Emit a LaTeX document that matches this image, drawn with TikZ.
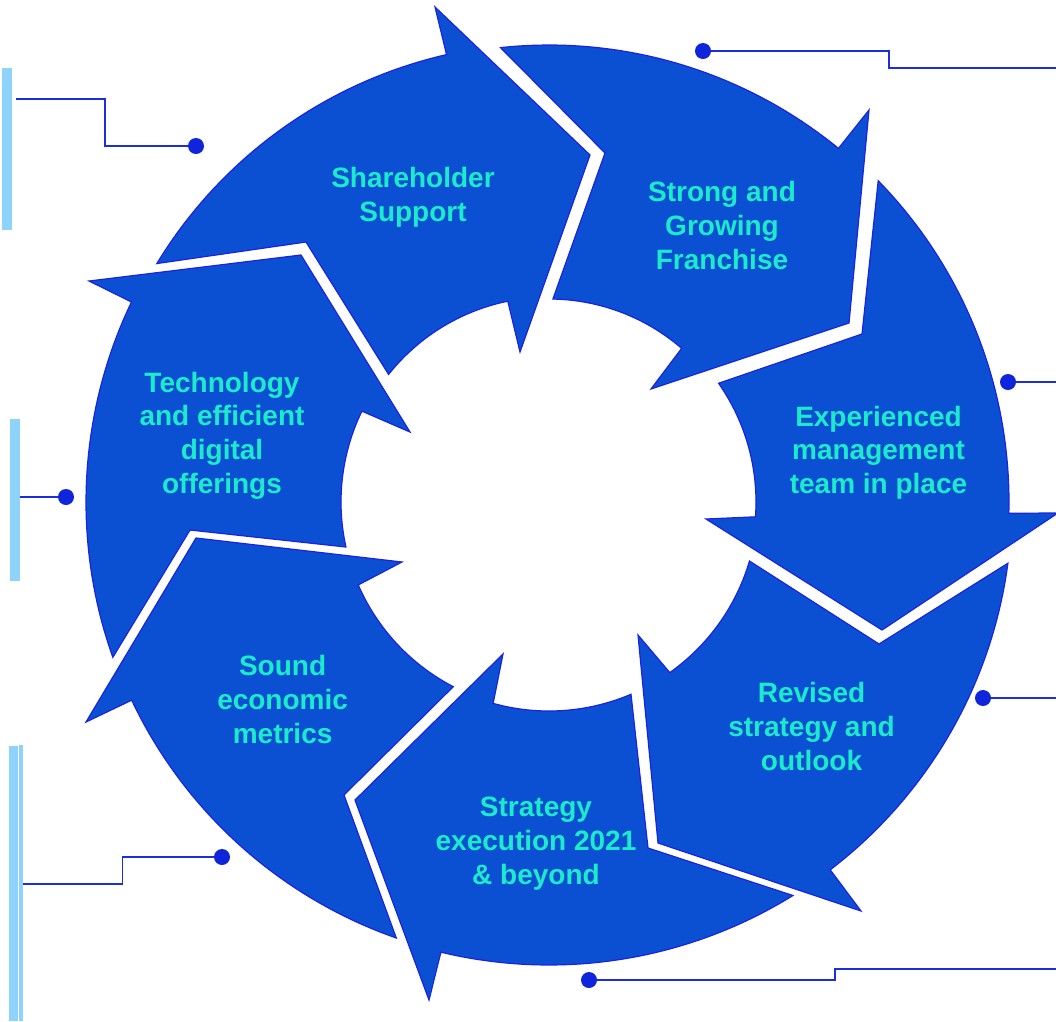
\documentclass[tikz,border=0pt]{standalone}
\usepackage{fontspec}
\setmainfont{Liberation Sans}
\definecolor{arrowfill}{HTML}{0B50D3}
\definecolor{arrowline}{HTML}{1A24E0}
\definecolor{labeltext}{HTML}{1CEBCB}
\definecolor{linkblue}{HTML}{1A2EDC}
\definecolor{dotblue}{HTML}{0F25DB}
\definecolor{barblue}{HTML}{8ED3FB}
\begin{document}
\begin{tikzpicture}[x=1pt,y=-1pt,
  ringseg/.style={fill=arrowfill, draw=arrowline, line width=1.2pt, line join=miter},
  seglabel/.style={text=labeltext, font=\bfseries\fontsize{28}{33.7}\selectfont, align=center, inner sep=0pt},
  pindot/.style={circle, fill=dotblue, minimum size=16pt, inner sep=0pt},
  leader/.style={draw=linkblue, line width=1.3pt},
  sidebar/.style={fill=barblue}]
\useasboundingbox (0,0) rectangle (1056,1021);

% side bars
\path[sidebar] (2,68) rectangle (12,230);
\path[sidebar] (10,419) rectangle (20,581);
\path[sidebar] (9,746) rectangle (18,1021);
\path[sidebar] (19.3,745) rectangle (22.5,1021);

% A: Shareholder Support
\path[ringseg] plot[domain=211.3:257.1,samples=40] ({549+459*cos(\x)},{502+459*sin(\x)})
  -- (435,7) -- (590,155) -- (520,352)
  -- plot[domain=258.4:218.5,samples=40] ({549+205*cos(\x)},{502+205*sin(\x)})
  -- (306,242) -- cycle;
% B: Strong and Growing Franchise
\path[ringseg] plot[domain=263.9:309.3,samples=40] ({549+457*cos(\x)},{502+457*sin(\x)})
  -- (869,110) -- (849,323) -- (651,389)
  -- plot[domain=310.8:271.1,samples=40] ({549+203*cos(\x)},{502+203*sin(\x)})
  -- (605,153) -- cycle;
% C: Experienced management
\path[ringseg] plot[domain=315.7:361.4,samples=40] ({549+460*cos(\x)},{502+460*sin(\x)})
  -- (1058,513) -- (882,630) -- (706,519)
  -- plot[domain=364.1:325.0,samples=40] ({549+207*cos(\x)},{502+207*sin(\x)})
  -- (862,334) -- cycle;
% D: Revised strategy
\path[ringseg] plot[domain=7.6:52.6,samples=40] ({549+463*cos(\x)},{502+463*sin(\x)})
  -- (861,911) -- (658,843) -- (638,635)
  -- plot[domain=54.7:16.4,samples=40] ({549+209*cos(\x)},{502+209*sin(\x)})
  -- (879,644) -- cycle;
% E: Strategy execution
\path[ringseg] plot[domain=58.2:103.5,samples=40] ({549+463*cos(\x)},{502+463*sin(\x)})
  -- (429,1000) -- (355,800) -- (503,654)
  -- plot[domain=105.5:66.9,samples=40] ({549+209*cos(\x)},{502+209*sin(\x)})
  -- (648,848) -- cycle;
% F: Sound economic metrics
\path[ringseg] plot[domain=109.3:154.6,samples=40] ({549+462*cos(\x)},{502+462*sin(\x)})
  -- (86,722) -- (196,538) -- (402,562)
  -- plot[domain=156.5:117.4,samples=40] ({549+208*cos(\x)},{502+208*sin(\x)})
  -- (344,795) -- cycle;
% G: Technology
\path[ringseg] plot[domain=160.4:205.6,samples=40] ({549+463*cos(\x)},{502+463*sin(\x)})
  -- (89,281) -- (301,255) -- (410,432)
  -- plot[domain=205.9:167.5,samples=40] ({549+208*cos(\x)},{502+208*sin(\x)})
  -- (190,530) -- cycle;

% labels
\node[seglabel] (tA) at (413,197.5) {Shareholder\\Support};
\node[seglabel] (tB) at (722,225.5) {Strong and\\Growing\\Franchise};
\node[seglabel] (tC) at (878.5,452.5) {Experienced\\management\\team in place};
\node[seglabel] (tD) at (811.5,726.5) {Revised\\strategy and\\outlook};
\node[seglabel] (tE) at (536,843.5) {Strategy\\execution 2021\\\& beyond};
\node[seglabel] (tF) at (282.6,699.5) {Sound\\economic\\metrics};
\node[seglabel] (tG) at (222,435.5) {Technology\\and efficient\\digital\\offerings};

% connector ends
\coordinate (e1) at (16,99);
\coordinate (e2) at (1056,68);
\coordinate (e3) at (1056,382);
\coordinate (e4) at (1056,698);
\coordinate (e5) at (1056,969);
\coordinate (e6) at (20,497);
\coordinate (e7) at (22.5,884);

% connectors
\draw[leader] (196,146) -- ++(-91,0) |- (e1);
\draw[leader] (703,51) -- ++(186,0) |- (e2);
\draw[leader] (1008,382) -- (e3);
\draw[leader] (983,698) -- (e4);
\draw[leader] (589,980) -- ++(246,0) |- (e5);
\draw[leader] (66,497) -- (e6);
\draw[leader] (222,857) -- ++(-99.5,0) |- (e7);

% dots
\node[pindot] (d1) at (196,146) {};
\node[pindot] (d2) at (703,51) {};
\node[pindot] (d3) at (1008,382) {};
\node[pindot] (d4) at (983,698) {};
\node[pindot] (d5) at (589,980) {};
\node[pindot] (d6) at (66,497) {};
\node[pindot] (d7) at (222,857) {};
\end{tikzpicture}
\end{document}
